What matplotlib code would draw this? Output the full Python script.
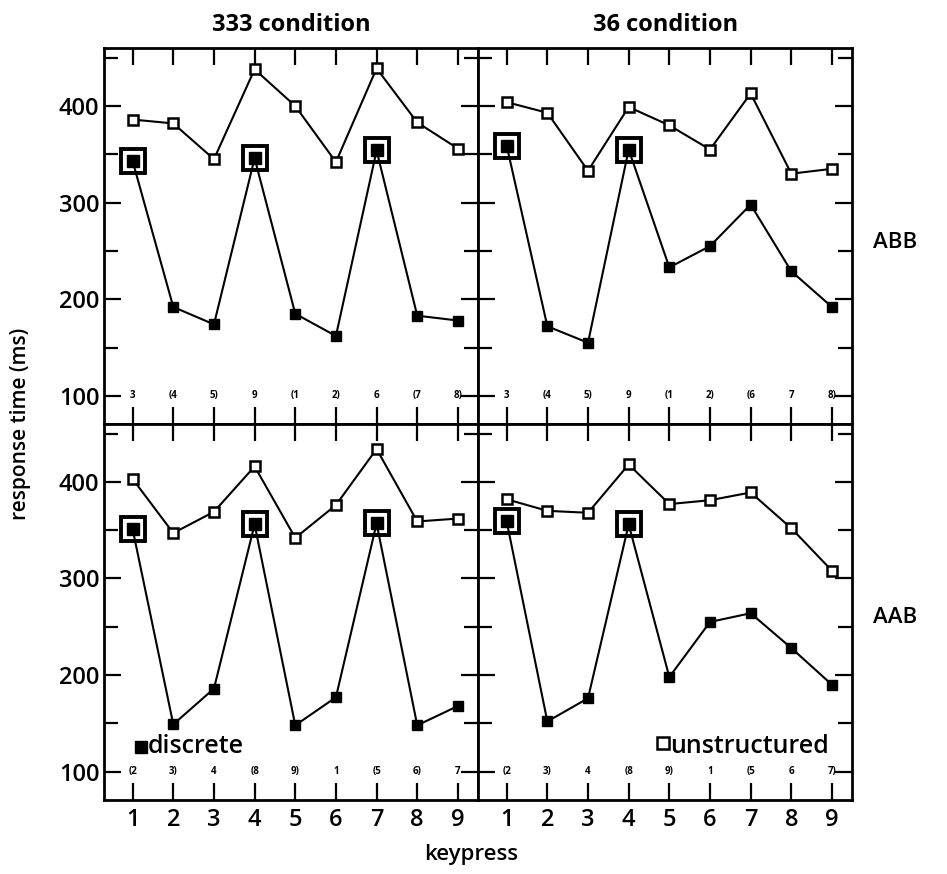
import matplotlib.pyplot as plt
from matplotlib.ticker import MultipleLocator

plt.rcParams['font.family'] = ['Open Sans', 'DejaVu Sans']

# posiciones de tecla
keypress = [1, 2, 3, 4, 5, 6, 7, 8, 9]

# condicion 333
abb_333_discrete = [343, 192, 174, 346, 185, 162, 354, 183, 178]
abb_333_unstructured = [386, 382, 345, 438, 400, 342, 439, 383, 356]
aab_333_discrete = [351, 149, 186, 356, 148, 177, 357, 148, 168]
aab_333_unstructured = [403, 347, 369, 416, 342, 376, 434, 359, 362]

# condicion 36
abb_36_discrete = [359, 172, 155, 355, 233, 255, 298, 229, 192]
abb_36_unstructured = [404, 393, 333, 399, 380, 355, 413, 330, 335]
aab_36_discrete = [359, 152, 176, 356, 198, 255, 264, 228, 190]
aab_36_unstructured = [382, 370, 368, 418, 377, 381, 389, 352, 308]

# teclas que inician un grupo (cuadro grande)
big_333 = [1, 4, 7]
big_36 = [1, 4]

# etiquetas pequenas de la secuencia de dedos
seq_abb_333 = ['3', '(4', '5)', '9', '(1', '2)', '6', '(7', '8)']
seq_abb_36 = ['3', '(4', '5)', '9', '(1', '2)', '(6', '7', '8)']
seq_aab_333 = ['(2', '3)', '4', '(8', '9)', '1', '(5', '6)', '7']
seq_aab_36 = ['(2', '3)', '4', '(8', '9)', '1', '(5', '6', '7)']

fig, axes = plt.subplots(2, 2, figsize=(9.47, 8.74), dpi=100, sharex=True, sharey=True)
fig.subplots_adjust(left=0.110, right=0.900, top=0.945, bottom=0.085, wspace=0, hspace=0)

paneles = [
    (axes[0, 0], abb_333_discrete, abb_333_unstructured, big_333, seq_abb_333),
    (axes[0, 1], abb_36_discrete, abb_36_unstructured, big_36, seq_abb_36),
    (axes[1, 0], aab_333_discrete, aab_333_unstructured, big_333, seq_aab_333),
    (axes[1, 1], aab_36_discrete, aab_36_unstructured, big_36, seq_aab_36),
]

for ax, disc, unst, big, seq in paneles:
    ax.plot(keypress, unst, color='black', lw=1.5, marker='s', ms=7.5,
            mfc='white', mec='black', mew=1.8, zorder=3)
    ax.plot(keypress, disc, color='black', lw=1.5, marker='s', ms=7.5,
            mfc='black', mec='black', zorder=3)
    by = [disc[k - 1] for k in big]
    ax.plot(big, by, ls='none', marker='s', ms=17, mfc='white', mec='black', mew=2.8, zorder=2)
    ax.plot(big, by, ls='none', marker='s', ms=8, mfc='black', mec='black', zorder=4)
    for k, s in zip(keypress, seq):
        ax.text(k, 100, s, ha='center', va='center', fontsize=7, fontweight='bold')
    ax.set_xlim(0.3, 9.5)
    ax.set_ylim(71, 460)
    ax.yaxis.set_major_locator(MultipleLocator(100))
    ax.yaxis.set_minor_locator(MultipleLocator(50))
    ax.set_xticks(keypress)
    ax.tick_params(which='both', direction='in', top=True, right=True, length=12, width=1.6,
                   labelsize=17)
    ax.tick_params(which='minor', length=10)
    for lab in ax.get_xticklabels() + ax.get_yticklabels():
        lab.set_fontweight('semibold')
    for sp in ax.spines.values():
        sp.set_linewidth(2)

for ax in axes[:, 1]:
    ax.tick_params(labelleft=False)
for ax in axes[1, :]:
    ax.tick_params(axis='x', pad=6)

axes[0, 0].set_title('333 condition', fontsize=17, fontweight='bold', pad=12)
axes[0, 1].set_title('36 condition', fontsize=17, fontweight='bold', pad=12)

fig.text(0.945, 0.722, 'ABB', ha='center', va='center', fontsize=16, fontweight='semibold')
fig.text(0.945, 0.294, 'AAB', ha='center', va='center', fontsize=16, fontweight='semibold')
fig.text(0.022, 0.515, 'response time (ms)', rotation=90, ha='center', va='center',
         fontsize=15, fontweight='semibold')
fig.text(0.497, 0.022, 'keypress', ha='center', va='center', fontsize=16, fontweight='semibold')

# leyendas dentro de los paneles inferiores
axes[1, 0].plot([1.2], [126], ls='none', marker='s', ms=8, mfc='black', mec='black')
axes[1, 0].text(1.38, 126, 'discrete', ha='left', va='center', fontsize=18, fontweight='semibold')
axes[1, 1].plot([4.85], [130], ls='none', marker='s', ms=8, mfc='white', mec='black', mew=1.8)
axes[1, 1].text(5.02, 126, 'unstructured', ha='left', va='center', fontsize=18,
                fontweight='semibold')

fig.savefig('out.png', dpi=100)
